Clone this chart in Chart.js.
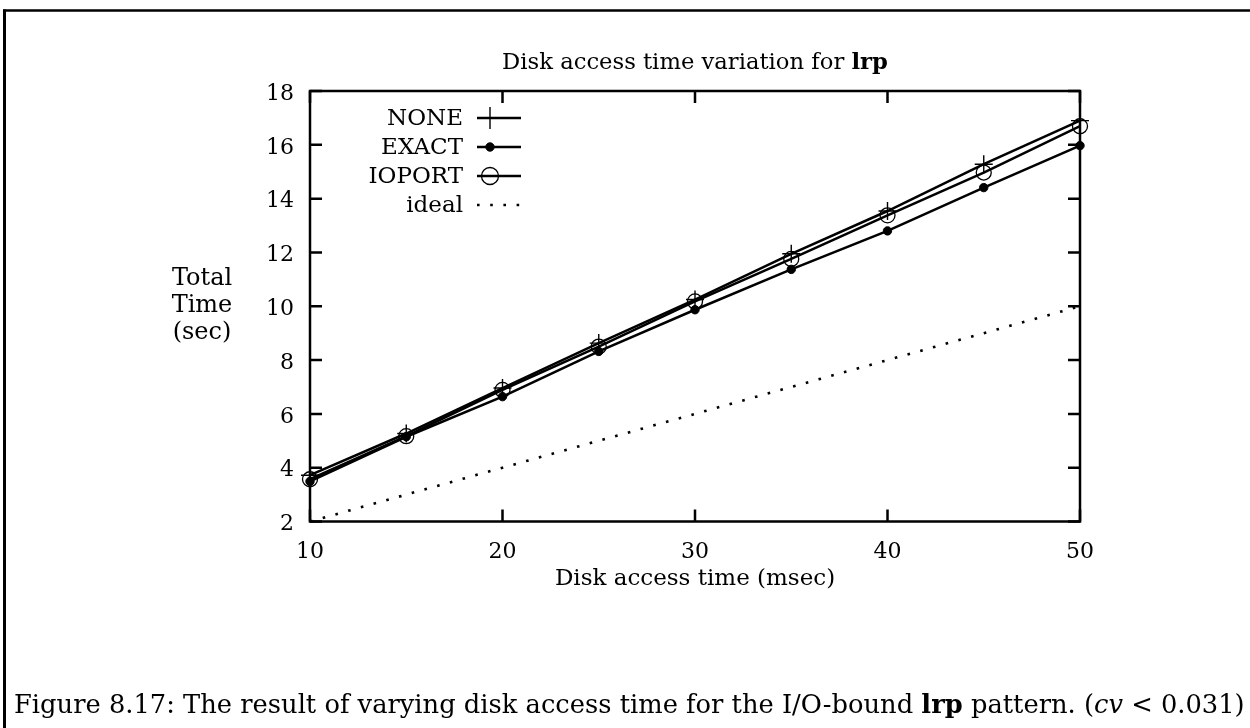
<!DOCTYPE html>
<html>
<head>
<meta charset="utf-8">
<title>Disk access time variation for lrp</title>
<script src="https://cdn.jsdelivr.net/npm/chart.js@4.4.1/dist/chart.umd.min.js"></script>
<style>
  html, body { margin: 0; padding: 0; background: #fff; }
  #wrap { width: 1250px; height: 728px; position: relative; }
  canvas { display: block; }
</style>
</head>
<body>
<div id="wrap"><canvas id="chart" width="1250" height="728"></canvas></div>
<script>
// Disk access time (msec) on the x axis
const accessTimes = [10, 15, 20, 25, 30, 35, 40, 45, 50];

// Total time (sec) for each prefetching policy
const noneTimes   = [3.72, 5.27, 6.96, 8.63, 10.25, 11.95, 13.54, 15.28, 16.90];
const exactTimes  = [3.49, 5.15, 6.64, 8.32,  9.87, 11.37, 12.80, 14.41, 15.97];
const ioportTimes = [3.57, 5.17, 6.89, 8.50, 10.18, 11.76, 13.38, 14.97, 16.69];
const idealTimes  = [2, 3, 4, 5, 6, 7, 8, 9, 10];

const seriesNames = ['NONE', 'EXACT', 'IOPORT', 'ideal'];

const xTickValues = [10, 20, 30, 40, 50];
const yTickValues = [2, 4, 6, 8, 10, 12, 14, 16, 18];

const titleRuns = [['Disk access time variation for ', 'normal'], ['lrp', 'bold']];
const xTitle = 'Disk access time (msec)';
const yTitleLines = ['Total', 'Time', '(sec)'];
const captionRuns = [
  ['Figure 8.17: The result of varying disk access time for the I/O-bound ', 'normal'],
  ['lrp', 'bold'],
  [' pattern. (', 'normal'],
  ['cv', 'italic'],
  [' < 0.031)', 'normal']
];

const FONT = '"DejaVu Serif", "Liberation Serif", serif';
const INK = '#000';

const toPoints = vals => accessTimes.map((x, i) => ({ x, y: vals[i] }));

function runFont(style, size) {
  return (style === 'bold' ? 'bold ' : style === 'italic' ? 'italic ' : '') + size + 'px ' + FONT;
}
function runsWidth(ctx, runs, size) {
  let w = 0;
  runs.forEach(([t, s]) => { ctx.font = runFont(s, size); w += ctx.measureText(t).width; });
  return w;
}
// Draw a line of mixed-style text; size is chosen so the line spans `width`.
function drawRuns(ctx, runs, baseSize, width, x, y, align) {
  const size = baseSize * width / runsWidth(ctx, runs, baseSize);
  const total = runsWidth(ctx, runs, size);
  let cx = align === 'center' ? x - total / 2 : x;
  ctx.textAlign = 'left';
  ctx.textBaseline = 'alphabetic';
  runs.forEach(([t, s]) => {
    ctx.font = runFont(s, size);
    ctx.fillText(t, cx, y);
    cx += ctx.measureText(t).width;
  });
}

function drawMarker(ctx, style, r, bw, fill, x, y) {
  if (!style || r <= 0) return;
  ctx.save();
  ctx.lineWidth = bw;
  ctx.strokeStyle = INK;
  ctx.beginPath();
  if (style === 'cross') {
    ctx.moveTo(x - r, y); ctx.lineTo(x + r, y);
    ctx.moveTo(x, y - r); ctx.lineTo(x, y + r);
    ctx.stroke();
  } else {
    ctx.arc(x, y, r, 0, Math.PI * 2);
    if (fill && fill !== 'transparent') { ctx.fillStyle = fill; ctx.fill(); }
    ctx.stroke();
  }
  ctx.restore();
}

const decorPlugin = {
  id: 'decor',
  beforeDraw(chart) {
    const ctx = chart.ctx;
    ctx.save();
    ctx.fillStyle = '#fff';
    ctx.fillRect(0, 0, chart.width, chart.height);
    // page rule along the top and left edges
    ctx.strokeStyle = INK;
    ctx.lineWidth = 2.5;
    ctx.beginPath(); ctx.moveTo(3, 10.5); ctx.lineTo(chart.width, 10.5); ctx.stroke();
    ctx.lineWidth = 3;
    ctx.beginPath(); ctx.moveTo(4.5, 9.5); ctx.lineTo(4.5, chart.height); ctx.stroke();
    ctx.restore();
  },
  beforeDatasetsDraw(chart) {
    const ctx = chart.ctx;
    const a = chart.chartArea;
    const xs = chart.scales.x, ys = chart.scales.y;
    const tick = 12;
    ctx.save();
    ctx.strokeStyle = INK;
    ctx.lineWidth = 2.5;
    ctx.strokeRect(a.left, a.top, a.right - a.left, a.bottom - a.top);
    ctx.beginPath();
    xTickValues.forEach(v => {
      const px = xs.getPixelForValue(v);
      ctx.moveTo(px, a.bottom); ctx.lineTo(px, a.bottom - tick);
      ctx.moveTo(px, a.top); ctx.lineTo(px, a.top + tick);
    });
    yTickValues.forEach(v => {
      const py = ys.getPixelForValue(v);
      ctx.moveTo(a.left, py); ctx.lineTo(a.left + tick, py);
      ctx.moveTo(a.right, py); ctx.lineTo(a.right - tick, py);
    });
    ctx.stroke();
    ctx.restore();
  },
  afterDraw(chart) {
    const ctx = chart.ctx;
    const a = chart.chartArea;
    ctx.save();
    ctx.fillStyle = INK;

    // title
    drawRuns(ctx, titleRuns, 21, 386, (a.left + a.right) / 2, 69, 'center');

    // axis titles
    ctx.textAlign = 'center';
    ctx.textBaseline = 'alphabetic';
    ctx.font = '23px ' + FONT;
    ctx.fillText(xTitle, (a.left + a.right) / 2, 585);
    ctx.font = '24px ' + FONT;
    yTitleLines.forEach((t, i) => ctx.fillText(t, 202, 285 + i * 27));

    // key, top-left inside the plot
    const keyTextRight = a.left + 153;
    const sampleL = a.left + 167, sampleR = a.left + 211, markX = a.left + 180;
    chart.data.datasets.forEach((ds, i) => {
      const y = 118 + i * 29;
      ctx.font = '23px ' + FONT;
      ctx.textAlign = 'right';
      ctx.textBaseline = 'middle';
      ctx.fillStyle = INK;
      ctx.fillText(ds.label, keyTextRight, y + 1);
      ctx.save();
      ctx.strokeStyle = INK;
      ctx.lineWidth = ds.borderWidth;
      ctx.setLineDash(ds.borderDash || []);
      ctx.beginPath(); ctx.moveTo(sampleL, y); ctx.lineTo(sampleR, y); ctx.stroke();
      ctx.restore();
      const r = ds.pointStyle === 'cross' ? 11 : ds.pointStyle && ds.pointRadius > 5 ? 8.5 : ds.pointRadius;
      drawMarker(ctx, ds.pointStyle, r, ds.pointBorderWidth, ds.pointBackgroundColor, markX, y);
    });

    // caption
    ctx.fillStyle = INK;
    drawRuns(ctx, captionRuns, 24, 1231, 14, 713, 'left');
    ctx.restore();
  }
};

const common = {
  borderColor: INK,
  pointBorderColor: INK,
  borderWidth: 2.5,
  tension: 0,
  clip: false
};

new Chart(document.getElementById('chart'), {
  type: 'line',
  data: {
    datasets: [
      Object.assign({}, common, {
        label: seriesNames[0], data: toPoints(noneTimes),
        pointStyle: 'cross', pointRadius: 9, pointBorderWidth: 1.4,
        pointBackgroundColor: 'transparent'
      }),
      Object.assign({}, common, {
        label: seriesNames[1], data: toPoints(exactTimes),
        pointStyle: 'circle', pointRadius: 4.2, pointBorderWidth: 1,
        pointBackgroundColor: INK
      }),
      Object.assign({}, common, {
        label: seriesNames[2], data: toPoints(ioportTimes),
        pointStyle: 'circle', pointRadius: 7.5, pointBorderWidth: 1.3,
        pointBackgroundColor: 'transparent'
      }),
      Object.assign({}, common, {
        label: seriesNames[3], data: toPoints(idealTimes),
        borderWidth: 2.6, borderDash: [2.6, 10.6],
        pointStyle: false, pointRadius: 0, pointBorderWidth: 0,
        pointBackgroundColor: 'transparent'
      })
    ]
  },
  options: {
    responsive: false,
    animation: false,
    devicePixelRatio: 1,
    layout: { padding: { left: 0, right: 170, top: 91, bottom: 0 } },
    plugins: {
      legend: { display: false },
      tooltip: { enabled: false },
      title: { display: false }
    },
    scales: {
      x: {
        type: 'linear',
        min: 10, max: 50,
        afterBuildTicks: s => { s.ticks = xTickValues.map(v => ({ value: v })); },
        afterFit: s => { s.height = 206.5; },
        grid: { display: false, drawTicks: false },
        border: { display: false },
        ticks: {
          color: INK, padding: 18, maxRotation: 0, autoSkip: false,
          font: { family: FONT, size: 22 }
        }
      },
      y: {
        type: 'linear',
        min: 2, max: 18,
        afterBuildTicks: s => { s.ticks = yTickValues.map(v => ({ value: v })); },
        afterFit: s => { s.width = 310; },
        grid: { display: false, drawTicks: false },
        border: { display: false },
        ticks: {
          color: INK, padding: 16, autoSkip: false, labelOffset: 3,
          font: { family: FONT, size: 22 }
        }
      }
    }
  },
  plugins: [decorPlugin]
});
</script>
</body>
</html>
